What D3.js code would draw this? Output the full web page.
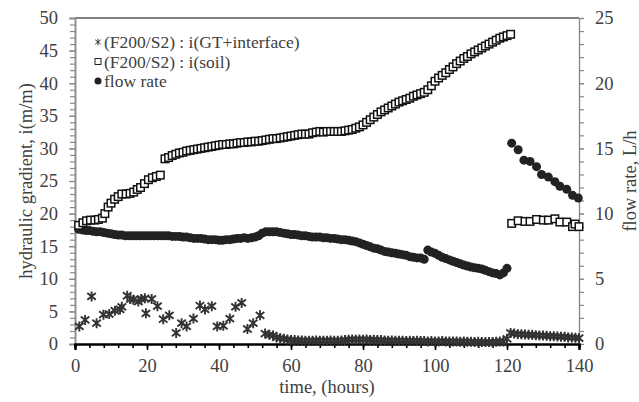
<!DOCTYPE html>
<html>
<head>
<meta charset="utf-8">
<script src="https://cdn.jsdelivr.net/npm/d3@7"></script>
<style>
  body { margin: 0; background: #fff; }
  svg text { font-family: "Liberation Serif", "DejaVu Serif", serif; }
</style>
</head>
<body>
<svg id="chart" width="639" height="402"></svg>
<script>
// i(GT+interface), left axis
var gtTime = [1.2, 2.8, 4.6, 6.0, 7.9, 9.5, 11.1, 12.5, 13.0, 14.5, 15.4, 16.2, 17.6, 18.4, 19.4, 19.7, 21.3, 22.9, 24.5,
  26.2, 28.1, 29.6, 31.0, 32.9, 34.7, 36.1, 38.0, 39.5, 41.2, 43.0, 44.6, 46.3, 47.9, 49.5, 51.4, 52.8, 54.0,
  55, 56, 57, 58, 59, 60, 61, 62, 63, 64, 65, 66, 67, 68, 69, 70, 71, 72, 73, 74, 75, 76, 77, 78, 79, 80,
  81, 82, 83, 84, 85, 86, 87, 88, 89, 90, 91, 92, 93, 94, 95, 96, 97, 98, 99, 100, 101, 102, 103, 104, 105,
  106, 107, 108, 109, 110, 111, 112, 113, 114, 115, 116, 117, 118, 119, 120,
  121, 122, 123, 124, 125, 126, 127, 128, 129, 130, 131, 132, 133, 134, 135, 136, 137, 138, 139, 140];
var gtVal = [2.7, 3.7, 7.3, 3.2, 4.5, 4.6, 5.1, 5.3, 5.7, 7.4, 6.9, 6.8, 6.5, 6.9, 7.0, 4.7, 6.9, 5.8, 3.8,
  4.4, 1.7, 3.2, 2.7, 3.9, 5.9, 5.3, 5.8, 2.7, 2.8, 3.9, 5.7, 6.3, 2.3, 3.2, 4.4, 1.6, 1.4,
  1.3, 1.0, 0.9, 0.8, 0.7, 0.6, 0.6, 0.55, 0.55, 0.5, 0.5, 0.5, 0.55, 0.5, 0.5, 0.5, 0.55, 0.5, 0.5, 0.55, 0.6, 0.65, 0.7, 0.65, 0.7, 0.65,
  0.7, 0.6, 0.65, 0.6, 0.6, 0.55, 0.5, 0.55, 0.5, 0.5, 0.5, 0.45, 0.5, 0.45, 0.5, 0.45, 0.45, 0.4, 0.45, 0.4, 0.4, 0.45, 0.4, 0.4, 0.4,
  0.4, 0.35, 0.4, 0.35, 0.35, 0.3, 0.35, 0.3, 0.3, 0.3, 0.3, 0.35, 0.4, 0.4, 0.8,
  1.7, 1.6, 1.5, 1.5, 1.45, 1.4, 1.4, 1.35, 1.3, 1.3, 1.25, 1.2, 1.2, 1.15, 1.1, 1.1, 1.0, 1.0, 0.95, 0.9];

// i(soil), left axis
var soilTime = [1.0, 2.2, 3.2, 4.3, 5.5, 6.5, 7.6, 8.3, 9.2, 10.0, 11.0, 12.0, 13.0, 14.2, 15.3, 16.3, 17.3, 18.2, 19.3, 20.4, 21.5, 22.6, 23.7,
  25, 26, 27, 28, 29, 30, 31, 32, 33, 34, 35, 36, 37, 38, 39, 40, 41, 42, 43, 44, 45, 46, 47, 48, 49, 50,
  51, 52, 53, 54, 55, 56, 57, 58, 59, 60, 61, 62, 63, 64, 65, 66, 67, 68, 69, 70, 71, 72, 73, 74, 75,
  76, 77, 78, 79, 80, 81, 82, 83, 84, 85, 86, 87, 88, 89, 90, 91, 92, 93, 94, 95, 96, 97, 98, 99, 100,
  101, 102, 103, 104, 105, 106, 107, 108, 109, 110, 111, 112, 113, 114, 115, 116, 117, 118, 119, 120, 121,
  121.3, 123.1, 125.0, 126.4, 128.2, 130.1, 131.5, 133.3, 134.7, 136.6, 138.2, 138.9, 140.0];
var soilVal = [18.2, 18.6, 18.9, 19.0, 19.0, 19.1, 19.3, 20.0, 21.0, 21.6, 22.2, 22.6, 23.0, 23.0, 23.1, 23.3, 23.7, 24.0, 24.6, 25.2, 25.5, 25.7, 25.9,
  28.4, 28.6, 28.9, 29.1, 29.3, 29.4, 29.6, 29.7, 29.8, 29.9, 30.0, 30.1, 30.2, 30.3, 30.4, 30.5, 30.6, 30.6, 30.7, 30.7, 30.8, 30.9, 30.9, 31.0, 31.0, 31.1,
  31.1, 31.2, 31.3, 31.4, 31.5, 31.5, 31.6, 31.7, 31.8, 31.9, 32.0, 32.1, 32.2, 32.2, 32.2, 32.4, 32.5, 32.6, 32.5, 32.6, 32.6, 32.6, 32.6, 32.6, 32.7,
  32.8, 32.9, 33.1, 33.3, 33.6, 34.0, 34.4, 34.8, 35.2, 35.6, 35.9, 36.2, 36.5, 36.8, 37.1, 37.3, 37.5, 37.7, 38.0, 38.2, 38.4, 38.6, 39.0, 39.6, 40.3,
  40.8, 41.2, 41.6, 42.1, 42.5, 43.0, 43.4, 43.8, 44.1, 44.5, 44.8, 45.1, 45.4, 45.7, 46.0, 46.3, 46.6, 46.9, 47.1, 47.3, 47.5,
  18.5, 18.9, 18.8, 18.8, 19.1, 19.0, 19.0, 19.2, 18.7, 18.7, 18.0, 18.4, 18.0];

// flow rate, right axis (L/h)
var flowTime = [1, 2, 3, 4, 5, 6, 7, 8, 9, 10, 11, 12, 13, 14, 15, 16, 17, 18, 19, 20, 21, 22, 23, 24, 25,
  26, 27, 28, 29, 30, 31, 32, 33, 34, 35, 36, 37, 38, 39, 40, 41, 42, 43, 44, 45, 46, 47, 48, 49, 50,
  51, 52, 53, 54, 55, 56, 57, 58, 59, 60, 61, 62, 63, 64, 65, 66, 67, 68, 69, 70, 71, 72, 73, 74, 75,
  76, 77, 78, 79, 80, 81, 82, 83, 84, 85, 86, 87, 88, 89, 90, 91, 92, 93, 94, 95, 96, 97,
  98, 99, 100, 101, 102, 103, 104, 105, 106, 107, 108, 109, 110, 111, 112, 113, 114, 115, 116, 117, 118, 119, 120,
  121.3, 123.1, 124.7, 126.4, 128.2, 129.6, 131.5, 133.3, 134.7, 136.6, 138.2, 139.8];
var flowVal = [8.8, 8.75, 8.7, 8.7, 8.65, 8.6, 8.6, 8.55, 8.5, 8.45, 8.4, 8.35, 8.35, 8.3, 8.3, 8.3, 8.3, 8.3, 8.3, 8.3, 8.3, 8.3, 8.3, 8.3, 8.3,
  8.3, 8.25, 8.25, 8.25, 8.2, 8.2, 8.15, 8.1, 8.1, 8.1, 8.05, 8.0, 8.0, 8.0, 7.95, 7.95, 8.0, 8.0, 8.05, 8.1, 8.1, 8.15, 8.1, 8.15, 8.2,
  8.3, 8.5, 8.6, 8.6, 8.6, 8.6, 8.55, 8.5, 8.45, 8.4, 8.4, 8.35, 8.3, 8.3, 8.25, 8.2, 8.2, 8.2, 8.15, 8.15, 8.1, 8.1, 8.05, 8.0, 8.0,
  7.95, 7.9, 7.85, 7.75, 7.65, 7.55, 7.45, 7.35, 7.3, 7.2, 7.1, 7.05, 7.0, 6.95, 6.9, 6.85, 6.8, 6.7, 6.65, 6.6, 6.6, 6.5,
  7.2, 7.05, 6.95, 6.8, 6.65, 6.55, 6.45, 6.35, 6.25, 6.15, 6.05, 5.98, 5.9, 5.85, 5.8, 5.75, 5.65, 5.55, 5.45, 5.4, 5.3, 5.45, 5.8,
  15.4, 14.9, 14.1, 14.0, 13.6, 13.0, 12.8, 12.45, 12.1, 11.86, 11.4, 11.2];

var legendLabels = ["(F200/S2) : i(GT+interface)", "(F200/S2) : i(soil)", "flow rate"];
var xTicks = [0, 20, 40, 60, 80, 100, 120, 140];
var yLeftTicks = [0, 5, 10, 15, 20, 25, 30, 35, 40, 45, 50];
var yRightTicks = [0, 5, 10, 15, 20, 25];

var svg = d3.select("#chart");
var margin = {top: 18, right: 60, bottom: 58, left: 75};
var W = 639 - margin.left - margin.right, H = 402 - margin.top - margin.bottom;
var g = svg.append("g").attr("transform", "translate(" + margin.left + "," + margin.top + ")");

var x = d3.scaleLinear().domain([0, 140]).range([0, W]);
var yL = d3.scaleLinear().domain([0, 50]).range([H, 0]);
var yR = d3.scaleLinear().domain([0, 25]).range([H, 0]);

var grey = "#8a8a8a", txt = "#404040";

// d3 axis puts font-family="sans-serif" on the group; drop it so the css serif wins
function styleAxis(a, col, pathW, tickW) {
  a.attr("font-family", null).attr("font-size", null);
  a.selectAll("path").attr("stroke", col).attr("stroke-width", pathW);
  a.selectAll("line").attr("stroke", col).attr("stroke-width", tickW);
  a.selectAll("text").attr("fill", txt).style("font-size", "18.5px");
}

// top border
g.append("line").attr("x1", 0).attr("x2", W).attr("y1", 0).attr("y2", 0)
  .attr("stroke", "#000").attr("stroke-width", 1.2);

// left axis: minor then major
styleAxis(g.append("g").call(d3.axisLeft(yL).tickValues(d3.range(0, 51, 1)).tickSize(5).tickFormat("")), grey, 1.5, 1.2);
styleAxis(g.append("g").call(d3.axisLeft(yL).tickValues(yLeftTicks).tickSize(6).tickPadding(11)), grey, 1.5, 1.2);

// right axis
styleAxis(g.append("g").attr("transform", "translate(" + W + ",0)")
  .call(d3.axisRight(yR).tickValues(d3.range(0, 26, 1)).tickSize(5).tickFormat("")), grey, 1.2, 1.2);
styleAxis(g.append("g").attr("transform", "translate(" + W + ",0)")
  .call(d3.axisRight(yR).tickValues(yRightTicks).tickSize(5).tickPadding(11)), grey, 1.2, 1.2);

// bottom axis
styleAxis(g.append("g").attr("transform", "translate(0," + H + ")")
  .call(d3.axisBottom(x).tickValues(d3.range(0, 141, 4)).tickSize(4).tickFormat("")), "#000", 2.2, 1.6);
styleAxis(g.append("g").attr("transform", "translate(0," + H + ")")
  .call(d3.axisBottom(x).tickValues(xTicks).tickSize(6).tickPadding(9)), "#000", 2.2, 1.6);

// axis titles
svg.append("text").attr("transform", "translate(32," + (margin.top + H / 2) + ") rotate(-90)")
  .attr("text-anchor", "middle").attr("fill", txt).style("font-size", "18.5px")
  .text("hydraulic gradient, i(m/m)");
svg.append("text").attr("transform", "translate(636," + (margin.top + H / 2) + ") rotate(-90)")
  .attr("text-anchor", "middle").attr("fill", txt).style("font-size", "18.5px")
  .text("flow rate, L/h");
svg.append("text").attr("x", margin.left + W / 2).attr("y", 393)
  .attr("text-anchor", "middle").attr("fill", txt).style("font-size", "18.5px")
  .text("time, (hours)");

// asterisk marker path
function star(r) {
  var d = r * 0.85;
  return "M0," + (-r) + "L0," + r + "M" + (-d) + "," + (-d * 0.8) + "L" + d + "," + (d * 0.8) +
    "M" + (-d) + "," + (d * 0.8) + "L" + d + "," + (-d * 0.8);
}

var plot = g.append("g");

// flow rate circles
plot.selectAll("circle.flow").data(flowTime).enter().append("circle")
  .attr("class", "flow")
  .attr("cx", function(d) { return x(d); })
  .attr("cy", function(d, i) { return yR(flowVal[i]); })
  .attr("r", 4.5).attr("fill", "#222");

// soil squares
var sq = 7.5;
plot.selectAll("rect.soil").data(soilTime).enter().append("rect")
  .attr("class", "soil")
  .attr("x", function(d) { return x(d) - sq / 2; })
  .attr("y", function(d, i) { return yL(soilVal[i]) - sq / 2; })
  .attr("width", sq).attr("height", sq)
  .attr("fill", "#fff").attr("stroke", "#111").attr("stroke-width", 1.5);

// GT stars
plot.selectAll("path.gt").data(gtTime).enter().append("path")
  .attr("class", "gt")
  .attr("transform", function(d, i) { return "translate(" + x(d) + "," + yL(gtVal[i]) + ")"; })
  .attr("d", star(5))
  .attr("fill", "none").attr("stroke", "#333").attr("stroke-width", 1.9);

// legend
var leg = svg.append("g").attr("transform", "translate(98,42)");
legendLabels.forEach(function(lab, i) {
  var row = leg.append("g").attr("transform", "translate(0," + (i * 19.5) + ")");
  if (i === 0) row.append("path").attr("d", star(3.2)).attr("fill", "none").attr("stroke", "#333").attr("stroke-width", 1);
  if (i === 1) row.append("rect").attr("x", -3).attr("y", -3).attr("width", 6).attr("height", 6)
    .attr("fill", "#fff").attr("stroke", "#222").attr("stroke-width", 1);
  if (i === 2) row.append("circle").attr("r", 3.5).attr("fill", "#222");
  row.append("text").attr("x", 6).attr("dy", "0.35em").attr("fill", txt)
    .style("font-size", "17.5px").text(lab);
});
</script>
</body>
</html>
